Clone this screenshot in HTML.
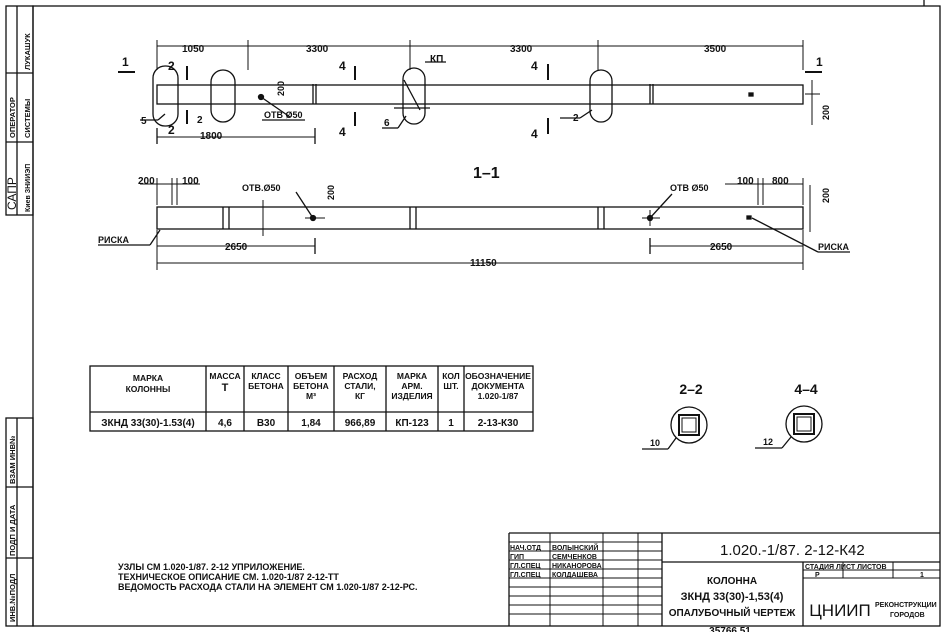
<!DOCTYPE html>
<html><head><meta charset="utf-8"><style>
html,body{margin:0;padding:0;background:#fff}
svg{display:block}
text{font-family:"Liberation Sans",sans-serif;font-weight:bold;fill:#111}
</style></head><body>
<svg width="944" height="632" viewBox="0 0 944 632" xmlns="http://www.w3.org/2000/svg">
<g stroke="#111" fill="none" stroke-width="1.3">
<rect x="33" y="6" width="907" height="620"/>
<line x1="924" y1="0" x2="924" y2="6"/>
<rect x="6" y="6" width="27" height="209"/>
<line x1="17" y1="6" x2="17" y2="215"/>
<line x1="6" y1="73" x2="33" y2="73"/><line x1="6" y1="142" x2="33" y2="142"/>
<rect x="6" y="418" width="27" height="208"/>
<line x1="17" y1="418" x2="17" y2="626"/>
<line x1="6" y1="487" x2="33" y2="487"/><line x1="6" y1="558" x2="33" y2="558"/>

<rect x="157" y="85" width="646" height="19"/>
<line x1="157" y1="46" x2="803" y2="46" stroke-width="1"/>
<g stroke-width="1"><line x1="157" y1="40" x2="157" y2="70"/><line x1="248" y1="40" x2="248" y2="70"/><line x1="410" y1="40" x2="410" y2="70"/><line x1="598" y1="40" x2="598" y2="70"/><line x1="803" y1="40" x2="803" y2="70"/></g>
<rect x="153" y="66" width="25" height="60" rx="12"/>
<rect x="211" y="70" width="24" height="52" rx="12"/>
<rect x="403" y="68" width="22" height="56" rx="11"/>
<rect x="590" y="70" width="22" height="52" rx="11"/>
<line x1="394" y1="108" x2="430" y2="108"/><line x1="404" y1="80" x2="420" y2="110"/>
<line x1="313" y1="84" x2="313" y2="104"/><line x1="316" y1="84" x2="316" y2="104"/>
<line x1="650" y1="84" x2="650" y2="104"/><line x1="653" y1="84" x2="653" y2="104"/>
<rect x="749" y="93" width="4" height="3" fill="#111"/>
<circle cx="261" cy="97" r="2.5" fill="#111"/>
<line x1="261" y1="97" x2="290" y2="117"/><line x1="262" y1="120" x2="305" y2="120"/>
<line x1="157" y1="137" x2="315" y2="137" stroke-width="1"/>
<line x1="315" y1="128" x2="315" y2="144"/><line x1="157" y1="128" x2="157" y2="144"/>
<line x1="118" y1="72" x2="135" y2="72" stroke-width="2"/>
<line x1="805" y1="72" x2="822" y2="72" stroke-width="2"/>
<line x1="187" y1="66" x2="187" y2="80" stroke-width="2"/><line x1="187" y1="110" x2="187" y2="124" stroke-width="2"/>
<line x1="355" y1="66" x2="355" y2="80" stroke-width="2"/><line x1="355" y1="112" x2="355" y2="126" stroke-width="2"/>
<line x1="548" y1="64" x2="548" y2="80" stroke-width="2"/><line x1="548" y1="118" x2="548" y2="134" stroke-width="2"/>
<line x1="140" y1="120" x2="158" y2="120"/><line x1="158" y1="120" x2="165" y2="114"/>
<line x1="382" y1="128" x2="398" y2="128"/><line x1="398" y1="128" x2="406" y2="116"/>
<line x1="560" y1="118" x2="580" y2="118"/><line x1="580" y1="118" x2="592" y2="110"/>
<line x1="425" y1="62" x2="446" y2="62"/>
<line x1="812" y1="80" x2="812" y2="125" stroke-width="1"/><line x1="805" y1="94" x2="820" y2="94" stroke-width="1"/>

<rect x="157" y="207" width="646" height="22"/>
<line x1="223" y1="207" x2="223" y2="229"/><line x1="229" y1="207" x2="229" y2="229"/>
<line x1="410" y1="207" x2="410" y2="229"/><line x1="416" y1="207" x2="416" y2="229"/>
<line x1="598" y1="207" x2="598" y2="229"/><line x1="604" y1="207" x2="604" y2="229"/>
<line x1="263" y1="200" x2="263" y2="236" stroke-width="1"/>
<circle cx="313" cy="218" r="2.5" fill="#111"/><line x1="305" y1="218" x2="325" y2="218" stroke-width="1"/>
<circle cx="650" cy="218" r="2.5" fill="#111"/><line x1="642" y1="218" x2="660" y2="218" stroke-width="1"/><line x1="650" y1="210" x2="650" y2="226" stroke-width="1"/>
<rect x="747" y="216" width="4" height="3" fill="#111"/>
<line x1="296" y1="192" x2="313" y2="218"/><line x1="672" y1="194" x2="650" y2="218"/>
<line x1="140" y1="184" x2="200" y2="184" stroke-width="1"/><line x1="725" y1="184" x2="803" y2="184" stroke-width="1"/>
<line x1="157" y1="178" x2="157" y2="205" stroke-width="1"/><line x1="172" y1="178" x2="172" y2="205" stroke-width="1"/><line x1="177" y1="178" x2="177" y2="205" stroke-width="1"/>
<line x1="758" y1="178" x2="758" y2="205" stroke-width="1"/><line x1="763" y1="178" x2="763" y2="205" stroke-width="1"/><line x1="803" y1="178" x2="803" y2="205" stroke-width="1"/>
<line x1="157" y1="246" x2="315" y2="246" stroke-width="1"/><line x1="650" y1="246" x2="803" y2="246" stroke-width="1"/>
<line x1="315" y1="238" x2="315" y2="254"/><line x1="650" y1="238" x2="650" y2="254"/>
<line x1="157" y1="263" x2="803" y2="263" stroke-width="1"/>
<line x1="157" y1="230" x2="157" y2="270" stroke-width="1"/><line x1="803" y1="230" x2="803" y2="270" stroke-width="1"/>
<line x1="98" y1="245" x2="150" y2="245"/><line x1="150" y1="245" x2="160" y2="230"/>
<line x1="752" y1="218" x2="818" y2="252"/><line x1="818" y1="252" x2="850" y2="252"/>
<line x1="810" y1="185" x2="810" y2="232" stroke-width="1"/>

<rect x="90" y="366" width="443" height="65"/>
<line x1="90" y1="412" x2="533" y2="412"/>
<line x1="206" y1="366" x2="206" y2="431"/><line x1="244" y1="366" x2="244" y2="431"/>
<line x1="288" y1="366" x2="288" y2="431"/><line x1="334" y1="366" x2="334" y2="431"/>
<line x1="386" y1="366" x2="386" y2="431"/><line x1="438" y1="366" x2="438" y2="431"/>
<line x1="464" y1="366" x2="464" y2="431"/>

<circle cx="689" cy="425" r="18"/><rect x="679" y="415" width="20" height="20" stroke-width="2"/><rect x="682" y="418" width="14" height="14" stroke-width="1"/>
<line x1="642" y1="449" x2="668" y2="449"/><line x1="668" y1="449" x2="676" y2="438"/>
<circle cx="804" cy="424" r="18"/><rect x="794" y="414" width="20" height="20" stroke-width="2"/><rect x="797" y="417" width="14" height="14" stroke-width="1"/>
<line x1="755" y1="448" x2="782" y2="448"/><line x1="782" y1="448" x2="791" y2="437"/>

<line x1="509" y1="533" x2="940" y2="533"/>
<line x1="509" y1="533" x2="509" y2="626"/>
<line x1="550" y1="533" x2="550" y2="626" stroke-width="1"/>
<line x1="603" y1="533" x2="603" y2="626" stroke-width="1"/>
<line x1="638" y1="533" x2="638" y2="626" stroke-width="1"/>
<line x1="662" y1="533" x2="662" y2="626"/>
<g stroke-width="0.9">
<line x1="509" y1="542" x2="662" y2="542"/><line x1="509" y1="551" x2="662" y2="551"/><line x1="509" y1="560" x2="662" y2="560"/><line x1="509" y1="569" x2="662" y2="569"/><line x1="509" y1="578" x2="662" y2="578"/><line x1="509" y1="587" x2="662" y2="587"/><line x1="509" y1="596" x2="662" y2="596"/><line x1="509" y1="605" x2="662" y2="605"/><line x1="509" y1="614" x2="662" y2="614"/>
</g>
<line x1="662" y1="562" x2="940" y2="562"/>
<line x1="803" y1="562" x2="803" y2="626"/>
<line x1="803" y1="570" x2="940" y2="570" stroke-width="1"/><line x1="803" y1="578" x2="940" y2="578" stroke-width="1"/>
<line x1="843" y1="562" x2="843" y2="578" stroke-width="1"/><line x1="893" y1="562" x2="893" y2="578" stroke-width="1"/>
</g>

<g font-size="10">
<text x="182" y="52">1050</text><text x="306" y="52">3300</text><text x="510" y="52">3300</text><text x="704" y="52">3500</text>
<text x="122" y="66" font-size="12">1</text><text x="816" y="66" font-size="12">1</text>
<text x="168" y="70" font-size="12">2</text><text x="168" y="134" font-size="12">2</text>
<text x="339" y="70" font-size="12">4</text><text x="339" y="136" font-size="12">4</text>
<text x="531" y="70" font-size="12">4</text><text x="531" y="138" font-size="12">4</text>
<text x="430" y="62">КП</text>
<text x="141" y="124">5</text><text x="197" y="123">2</text><text x="384" y="126">6</text><text x="573" y="121">2</text>
<text x="264" y="118" font-size="9">ОТВ Ø50</text>
<text x="200" y="139">1800</text>
<text x="473" y="178" font-size="16">1–1</text>
<text x="138" y="184">200</text><text x="182" y="184">100</text>
<text x="242" y="191" font-size="9">ОТВ.Ø50</text><text x="670" y="191" font-size="9">ОТВ Ø50</text>
<text x="737" y="184">100</text><text x="772" y="184">800</text>
<text x="98" y="243" font-size="9">РИСКА</text><text x="818" y="250" font-size="9">РИСКА</text>
<text x="225" y="250">2650</text><text x="710" y="250">2650</text><text x="470" y="266">11150</text>
<text x="284" y="96" font-size="9" transform="rotate(-90 284 96)">200</text>
<text x="334" y="200" font-size="9" transform="rotate(-90 334 200)">200</text>
<text x="829" y="120" font-size="9" transform="rotate(-90 829 120)">200</text>
<text x="829" y="203" font-size="9" transform="rotate(-90 829 203)">200</text>
</g>
<g font-size="8.5" text-anchor="middle">
<text x="148" y="381">МАРКА</text><text x="148" y="392">КОЛОННЫ</text>
<text x="225" y="379">МАССА</text><text x="225" y="391" font-size="11">Т</text>
<text x="266" y="379">КЛАСС</text><text x="266" y="389">БЕТОНА</text>
<text x="311" y="379">ОБЪЕМ</text><text x="311" y="389">БЕТОНА</text><text x="311" y="399">М³</text>
<text x="360" y="379">РАСХОД</text><text x="360" y="389">СТАЛИ,</text><text x="360" y="399">КГ</text>
<text x="412" y="379">МАРКА</text><text x="412" y="389">АРМ.</text><text x="412" y="399">ИЗДЕЛИЯ</text>
<text x="451" y="379">КОЛ</text><text x="451" y="389">ШТ.</text>
<text x="498" y="379">ОБОЗНАЧЕНИЕ</text><text x="498" y="389">ДОКУМЕНТА</text><text x="498" y="399">1.020-1/87</text>
<g font-size="10"><text x="148" y="426">ЗКНД 33(30)-1.53(4)</text><text x="225" y="426">4,6</text><text x="266" y="426">В30</text><text x="311" y="426">1,84</text><text x="360" y="426">966,89</text><text x="412" y="426">КП-123</text><text x="451" y="426">1</text><text x="498" y="426">2-13-К30</text></g>
<text x="691" y="394" font-size="14">2–2</text><text x="806" y="394" font-size="14">4–4</text>
<text x="655" y="446" font-size="9">10</text><text x="768" y="445" font-size="9">12</text>
</g>
<g font-size="9">
<text x="118" y="570">УЗЛЫ СМ 1.020-1/87. 2-12 УПРИЛОЖЕНИЕ.</text>
<text x="118" y="580">ТЕХНИЧЕСКОЕ ОПИСАНИЕ СМ. 1.020-1/87 2-12-ТТ</text>
<text x="118" y="590">ВЕДОМОСТЬ РАСХОДА СТАЛИ НА ЭЛЕМЕНТ СМ 1.020-1/87 2-12-РС.</text>
</g>
<g font-size="7">
<text x="510" y="550">НАЧ.ОТД</text><text x="552" y="550">ВОЛЫНСКИЙ</text>
<text x="510" y="559">ГИП</text><text x="552" y="559">СЕМЧЕНКОВ</text>
<text x="510" y="568">ГЛ.СПЕЦ</text><text x="552" y="568">НИКАНОРОВА</text>
<text x="510" y="577">ГЛ.СПЕЦ</text><text x="552" y="577">КОЛДАШЕВА</text>
<text x="805" y="569">СТАДИЯ ЛИСТ ЛИСТОВ</text>
<text x="815" y="577">Р</text><text x="920" y="577">1</text>
<text x="875" y="607">РЕКОНСТРУКЦИИ</text><text x="890" y="617">ГОРОДОВ</text>
</g>
<g font-size="15"><text x="720" y="555" style="font-weight:normal">1.020.-1/87. 2-12-К42</text></g>
<g font-size="10" text-anchor="middle">
<text x="732" y="584">КОЛОННА</text><text x="732" y="600" font-size="11">ЗКНД 33(30)-1,53(4)</text><text x="732" y="616">ОПАЛУБОЧНЫЙ ЧЕРТЕЖ</text>
<text x="840" y="616" font-size="17" style="font-weight:normal">ЦНИИП</text>
<text x="730" y="634" font-size="10">35766 51</text>
</g>
<g font-size="7.5">
<text transform="translate(30,70) rotate(-90)">ЛУКАШУК</text>
<text transform="translate(15,138) rotate(-90)">ОПЕРАТОР</text><text transform="translate(30,138) rotate(-90)">СИСТЕМЫ</text>
<text transform="translate(16,210) rotate(-90)" font-size="12" style="font-weight:normal">САПР</text><text transform="translate(30,212) rotate(-90)" font-size="7">Киев ЗНИИЭП</text>
<text transform="translate(15,622) rotate(-90)">ИНВ.№ПОДЛ</text>
<text transform="translate(15,556) rotate(-90)">ПОДП И ДАТА</text>
<text transform="translate(15,484) rotate(-90)">ВЗАМ ИНВ№</text>
</g>
</svg>
</body></html>
